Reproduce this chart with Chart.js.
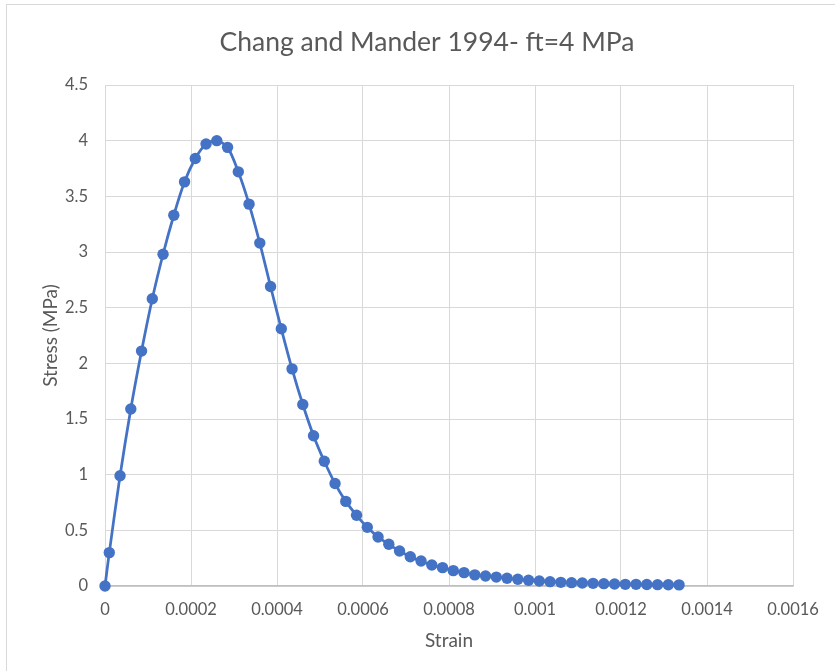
<!DOCTYPE html>
<html>
<head>
<meta charset="utf-8">
<title>Chang and Mander 1994</title>
<script src="https://cdn.jsdelivr.net/npm/chart.js@4.4.1/dist/chart.umd.min.js"></script>
<style>
  html, body { margin: 0; padding: 0; background: #fff; }
  #wrap { position: relative; width: 835px; height: 671px; overflow: hidden; }
  #frame { position: absolute; left: 6px; top: 4px; width: 900px; height: 700px;
           border: 1px solid #d9d9d9; box-sizing: border-box; }
  #chart { position: absolute; left: 0; top: 0; }
</style>
</head>
<body>
<div id="wrap">
  <div id="frame"></div>
  <!-- o quadro do gráfico continua além da borda direita da janela -->
  <canvas id="chart" width="847" height="671"></canvas>
</div>
<script>
// deformação (strain) e tensão (MPa) de cada ponto da curva
const strain = [
  0, 0.00001, 0.000035, 0.00006, 0.000085, 0.00011, 0.000135, 0.00016, 0.000185,
  0.00021, 0.000235, 0.00026, 0.000285, 0.00031, 0.000335, 0.00036, 0.000385,
  0.00041, 0.000435, 0.00046, 0.000485, 0.00051, 0.000535, 0.00056, 0.000585,
  0.00061, 0.000635, 0.00066, 0.000685, 0.00071, 0.000735, 0.00076, 0.000785,
  0.00081, 0.000835, 0.00086, 0.000885, 0.00091, 0.000935, 0.00096, 0.000985,
  0.00101, 0.001035, 0.00106, 0.001085, 0.00111, 0.001135, 0.00116, 0.001185,
  0.00121, 0.001235, 0.00126, 0.001285, 0.00131, 0.001335
];
const stress = [
  0, 0.30, 0.99, 1.59, 2.11, 2.58, 2.98, 3.33, 3.63,
  3.84, 3.97, 4.0, 3.94, 3.72, 3.43, 3.08, 2.69,
  2.31, 1.95, 1.63, 1.35, 1.12, 0.92, 0.76, 0.635,
  0.527, 0.44, 0.375, 0.314, 0.263, 0.224, 0.189, 0.165,
  0.138, 0.12, 0.10, 0.09, 0.08, 0.069, 0.06, 0.051,
  0.045, 0.039, 0.033, 0.03, 0.027, 0.024, 0.021, 0.018,
  0.015, 0.015, 0.013, 0.012, 0.011, 0.01
];
const xTickLabels = ["0", "0.0002", "0.0004", "0.0006", "0.0008", "0.001", "0.0012", "0.0014", "0.0016"];
const yTickLabels = ["0", "0.5", "1", "1.5", "2", "2.5", "3", "3.5", "4", "4.5"];

const fonte = "Lato, 'Open Sans', sans-serif";
const cinza = "#595959";
const grade = "#d9d9d9";

function init() {
  const pontos = strain.map((x, i) => ({ x: x, y: stress[i] }));
  const ctx = document.getElementById("chart").getContext("2d");
  new Chart(ctx, {
    type: "scatter",
    data: {
      datasets: [{
        label: "Stress",
        data: pontos,
        showLine: true,
        borderColor: "#4472c4",
        backgroundColor: "#4472c4",
        borderWidth: 2.75,
        pointRadius: 5.7,
        pointBorderWidth: 0,
        tension: 0.3,
        clip: false,
      }],
    },
    options: {
      responsive: false,
      animation: false,
      layout: { padding: { left: 7, right: 0, top: 4, bottom: 0 } },
      plugins: {
        legend: { display: false },
        tooltip: { enabled: false },
        title: {
          display: true,
          text: "Chang and Mander 1994- ft=4 MPa",
          color: cinza,
          font: { family: fonte, size: 26.5, weight: "normal" },
          padding: { top: 23, bottom: 26.2 },
        },
      },
      scales: {
        x: {
          type: "linear",
          min: 0,
          max: 0.0016,
          afterFit: (scale) => { scale.height = 85; },
          ticks: {
            stepSize: 0.0002,
            color: cinza,
            font: { family: fonte, size: 16.5 },
            padding: 14,
            maxRotation: 0,
            callback: (value, index) => xTickLabels[index],
          },
          grid: { color: grade, lineWidth: 1, drawTicks: false },
          border: { color: "#bfbfbf", width: 1.5 },
          title: {
            display: true,
            text: "Strain",
            color: cinza,
            font: { family: fonte, size: 19 },
            padding: { top: 0, bottom: 18.6 },
          },
        },
        y: {
          min: 0,
          max: 4.5,
          afterFit: (scale) => { scale.width = 98; },
          ticks: {
            stepSize: 0.5,
            color: cinza,
            font: { family: fonte, size: 16.5 },
            padding: 17,
            callback: (value, index) => yTickLabels[index],
          },
          grid: { color: grade, lineWidth: 1, drawTicks: false },
          border: { color: grade },
          title: {
            display: true,
            text: "Stress (MPa)",
            color: cinza,
            font: { family: fonte, size: 19 },
            padding: { top: 32, bottom: 0 },
          },
        },
        // eixo vazio à direita, só para reservar a margem do lado direito
        margem: {
          type: "linear",
          position: "right",
          afterFit: (scale) => { scale.width = 54; },
          ticks: { display: false },
          grid: { display: false, drawOnChartArea: false },
          border: { display: false },
        },
      },
    },
  });
}

window.onload = init;
</script>
</body>
</html>
